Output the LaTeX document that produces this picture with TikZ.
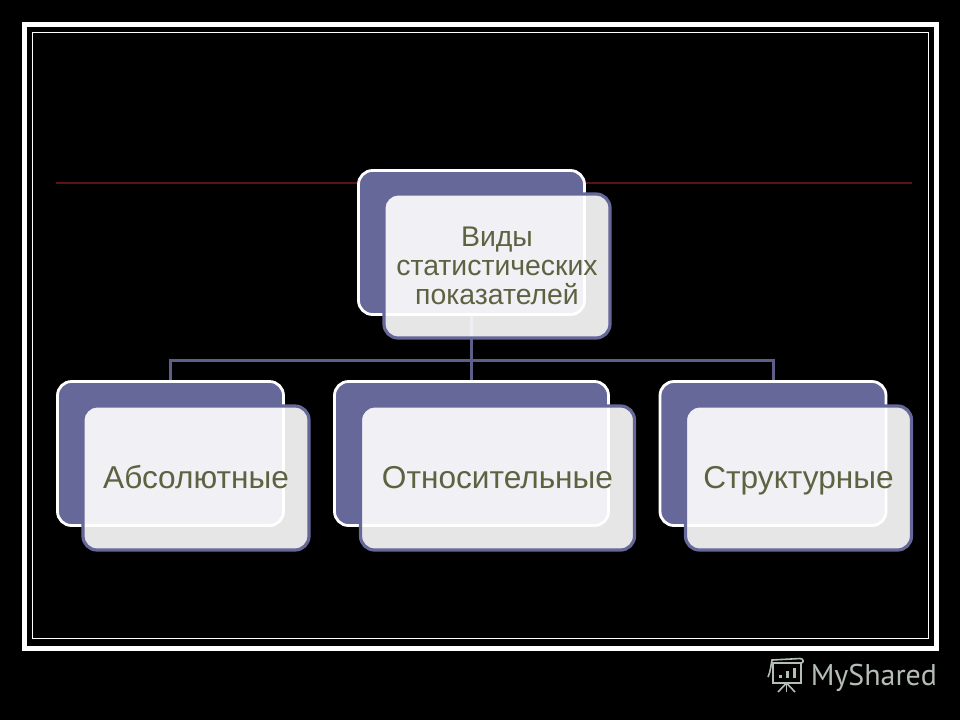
\documentclass[tikz,border=0pt]{standalone}
\usepackage{fontspec}
\usepackage{xcolor}
\setmainfont{Liberation Sans}
\newfontfamily\logofont{PT Sans}
\usetikzlibrary{positioning}
\definecolor{mSlate}{HTML}{666899}
\definecolor{mLine}{HTML}{5E5F88}
\definecolor{mOlive}{HTML}{5F6240}
\definecolor{mRust}{HTML}{5A1212}
\definecolor{mLogo}{HTML}{B4BDB6}
\tikzset{
    backcard/.style={draw=white, line width=0.7mm, fill=mSlate, rounded corners=3.5mm, minimum height=36mm, inner sep=0pt},
    frontcard/.style={draw=mSlate, line width=0.8mm, fill=white, fill opacity=0.9, text opacity=1, rounded corners=3.5mm, minimum height=36mm, inner sep=0pt, text=mOlive, align=center},
    leafcard/.style={frontcard, text height=20pt, text depth=5pt},
    link/.style={draw=mLine, line width=0.75mm},
    logoline/.style={draw=mLogo, line width=0.4mm}
}
\begin{document}
\begin{tikzpicture}[x=0.25mm, y=-0.25mm, font=\fontsize{22.5pt}{25pt}\selectfont]
        \fill[black] (0,0) rectangle (960,720);
        \useasboundingbox (0,0) rectangle (960,720);

        % frame
        \draw[white, line width=1.35mm] (24.5,24.5) rectangle (936.5,648.5);
        \draw[white, line width=0.25mm] (32,32) rectangle (928,638);
        \draw[mRust, line width=0.3mm] (56,183) -- (912,183);

        \node[backcard, minimum width=56.5mm] (kinds) at (471.5,242.5) {};
        \node[backcard, minimum width=56.5mm] (absolute) at (170.5,453.5) {};
        \node[backcard, minimum width=68.5mm] (relative) at (471.5,453.5) {};
        \node[backcard, minimum width=56.5mm] (structural) at (773,453.5) {};

        \coordinate (bus) at (471.5,360);
        \draw[link] (kinds.south) -- (bus);
        \draw[link] (bus) -- (absolute.north |- bus) -- (absolute.north);
        \draw[link] (bus) -- (relative.north);
        \draw[link] (bus) -- (structural.north |- bus) -- (structural.north);

        \node[frontcard, minimum width=56.5mm, font=\fontsize{20.2pt}{20.6pt}\selectfont] (kindstext) at (497,266)
            {Виды\\статистических\\показателей};
        \node[leafcard, minimum width=56.5mm] (absolutetext) at (196,478) {Абсолютные};
        \node[leafcard, minimum width=68.5mm] (relativetext) at (497.5,478) {Относительные};
        \node[leafcard, minimum width=56.5mm] (structuraltext) at (798.5,478) {Структурные};

        % logo
        \draw[logoline] (773,683) -- (773,663) -- (801,663) -- (801,683) -- cycle;
        \draw[logoline] (768,677) .. controls (771,670) and (771,664) .. (772,660) -- (800,658.5) .. controls (804,658.5) and (804,663) .. (801,663);
        \fill[mLogo] (779,675) rectangle (782,678);
        \fill[mLogo] (786,671) rectangle (789,678);
        \fill[mLogo] (793,668) rectangle (796,678);
        \draw[logoline] (786.5,683) -- (778,692);
        \draw[logoline] (786.5,683) -- (786.5,692);
        \draw[logoline] (786.5,683) -- (795,692);
        \node[anchor=west, inner sep=0pt, text=mLogo, font=\logofont\fontsize{21.3pt}{25pt}\selectfont] (brand) at (810.5,678) {MyShared};
    \end{tikzpicture}
\end{document}
